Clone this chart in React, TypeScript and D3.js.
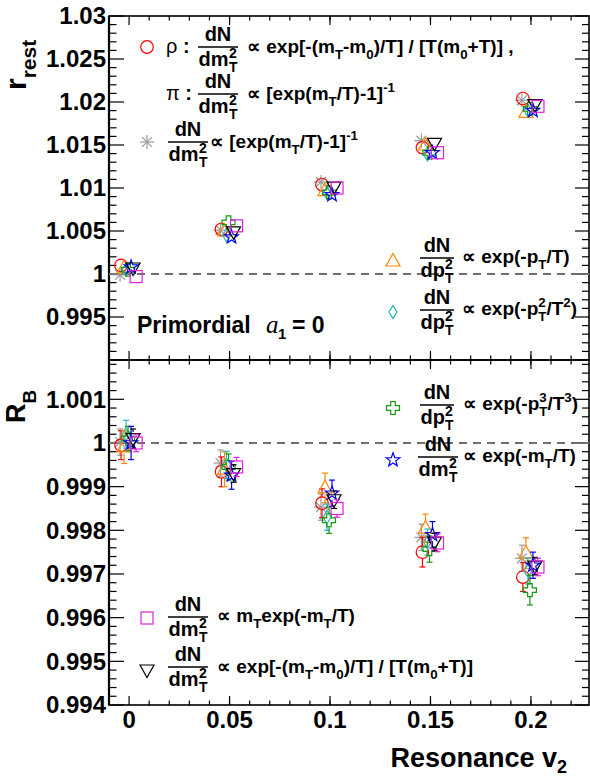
import React from 'react';
import * as d3 from 'd3';

// resonance v2 (x) values shared by all series
const v2 = [0, 0.05, 0.1, 0.15, 0.2];

// r_rest (top panel)
const rRestRho = [1.0010, 1.0052, 1.0104, 1.0147, 1.0204];
const rRestPtExp = [1.0007, 1.0050, 1.0097, 1.0150, 1.0188];
const rRestPt2 = [1.0005, 1.0045, 1.0094, 1.0139, 1.0190];
const rRestBose = [0.9999, 1.0051, 1.0107, 1.0155, 1.0202];
const rRestPt3 = [1.0005, 1.0060, 1.0095, 1.0141, 1.0192];
const rRestMtExp = [1.0008, 1.0043, 1.0092, 1.0141, 1.0190];
const rRestMtMt = [0.9997, 1.0056, 1.0100, 1.0141, 1.0195];
const rRestTsallis = [1.0007, 1.0049, 1.0101, 1.0152, 1.0197];

// R_B (bottom panel) and its errors
const rbRho = [0.99995, 0.99934, 0.99862, 0.99750, 0.99693];
const rbPtExp = [0.99991, 0.99940, 0.99897, 0.99805, 0.99748];
const rbPt2 = [1.00020, 0.99950, 0.99830, 0.99773, 0.99707];
const rbBose = [1.00002, 0.99954, 0.99853, 0.99784, 0.99736];
const rbPt3 = [1.00010, 0.99945, 0.99823, 0.99757, 0.99663];
const rbMtExp = [1.00000, 0.99926, 0.99885, 0.99790, 0.99720];
const rbMtMt = [1.00000, 0.99945, 0.99850, 0.99771, 0.99716];
const rbTsallis = [1.00010, 0.99930, 0.99870, 0.99773, 0.99718];

const errRho = [0.00033, 0.00034, 0.00033, 0.00034, 0.00033];
const errPtExp = [0.00038, 0.00040, 0.00034, 0.00032, 0.00035];
const errPt2 = [0.00032, 0.00031, 0.00030, 0.00030, 0.00030];
const errBose = [0.00030, 0.00030, 0.00030, 0.00030, 0.00030];
const errPt3 = [0.00028, 0.00030, 0.00030, 0.00030, 0.00034];
const errMtExp = [0.00038, 0.00032, 0.00030, 0.00030, 0.00030];
const errMtMt = [0.00020, 0.00022, 0.00020, 0.00020, 0.00020];
const errTsallis = [0.00022, 0.00020, 0.00020, 0.00020, 0.00020];

const xTickLabels = ['0', '0.05', '0.1', '0.15', '0.2'];

const series = [
  { shape: 'asterisk', color: '#999999', shift: -0.0045, top: rRestBose, bot: rbBose, err: errBose },
  { shape: 'circle', color: '#ff0000', shift: -0.004, top: rRestRho, bot: rbRho, err: errRho },
  { shape: 'triUp', color: '#ff8800', shift: -0.0025, top: rRestPtExp, bot: rbPtExp, err: errPtExp },
  { shape: 'diamond', color: '#22bbbb', shift: -0.0015, top: rRestPt2, bot: rbPt2, err: errPt2 },
  { shape: 'cross', color: '#119911', shift: -0.0005, top: rRestPt3, bot: rbPt3, err: errPt3 },
  { shape: 'star', color: '#0000ff', shift: 0.001, top: rRestMtExp, bot: rbMtExp, err: errMtExp },
  { shape: 'triDown', color: '#000000', shift: 0.002, top: rRestTsallis, bot: rbTsallis, err: errTsallis },
  { shape: 'square', color: '#e020e0', shift: 0.0035, top: rRestMtMt, bot: rbMtMt, err: errMtMt },
];

const L = 109, R = 589, T = 16, MID = 360, B = 705;
const FONT = "'Liberation Sans', Arial, Helvetica, sans-serif";

const x = d3.scaleLinear().domain([-0.01, 0.2289]).range([L, R]);
const yTop = d3.scaleLinear().domain([0.99, 1.03]).range([MID, T]);
const yBot = d3.scaleLinear().domain([0.994, 1.0019]).range([B, MID]);

const fmt = (v: number) => String(+v.toFixed(4));

function Marker({ shape, cx, cy, color }: any) {
  const p = { fill: 'none', stroke: color, strokeWidth: 1.2 };
  if (shape === 'circle') return <circle cx={cx} cy={cy} r={6.3} {...p} />;
  if (shape === 'square') return <rect x={cx - 6} y={cy - 6} width={12} height={12} {...p} />;
  if (shape === 'triUp')
    return <polygon points={`${cx},${cy - 7.5} ${cx + 7},${cy + 5} ${cx - 7},${cy + 5}`} {...p} />;
  if (shape === 'triDown')
    return <polygon points={`${cx},${cy + 7.5} ${cx + 7},${cy - 5} ${cx - 7},${cy - 5}`} {...p} />;
  if (shape === 'diamond')
    return <polygon points={`${cx},${cy - 6.5} ${cx + 4},${cy} ${cx},${cy + 6.5} ${cx - 4},${cy}`} {...p} />;
  if (shape === 'cross') {
    const a = 2.3, l = 6.5;
    const pts = [[-a, -l], [a, -l], [a, -a], [l, -a], [l, a], [a, a], [a, l], [-a, l], [-a, a], [-l, a], [-l, -a], [-a, -a]];
    return <polygon points={pts.map(d => `${cx + d[0]},${cy + d[1]}`).join(' ')} {...p} />;
  }
  if (shape === 'star') {
    const pts = d3.range(10).map(i => {
      const r = i % 2 === 0 ? 7.2 : 2.9;
      const ang = -Math.PI / 2 + (i * Math.PI) / 5;
      return `${cx + r * Math.cos(ang)},${cy + r * Math.sin(ang)}`;
    });
    return <polygon points={pts.join(' ')} {...p} />;
  }
  // asterisk
  return (
    <g stroke={color} strokeWidth={1.2}>
      {[0, 45, 90, 135].map(a => {
        const r = 7, t = (a * Math.PI) / 180;
        return <line key={a} x1={cx - r * Math.cos(t)} y1={cy - r * Math.sin(t)} x2={cx + r * Math.cos(t)} y2={cy + r * Math.sin(t)} />;
      })}
    </g>
  );
}

// text with sub/superscripts
function Rich({ x: tx, y: ty, segs, size = 19 }: any) {
  let cur = 0;
  return (
    <text x={tx} y={ty} fontFamily={FONT} fontWeight="bold" fontSize={size} style={{ whiteSpace: 'pre' }}>
      {segs.map((s: any, i: number) => {
        const target = s.k === 'sub' ? 6 : s.k === 'sup' ? -8 : 0;
        const dy = target - cur;
        cur = target;
        return (
          <tspan key={i} dy={dy} dx={s.dx || 0} fontSize={s.k ? size * 0.7 : size}>{s.t}</tspan>
        );
      })}
    </text>
  );
}

function Frac({ cx, ly, den }: any) {
  const dm = den === 'dm';
  const w = dm ? 20 : 17;
  const start = dm ? cx - 19.5 : cx - 16.5;
  const scriptX = dm ? cx + 11 : cx + 8;
  return (
    <g fontFamily={FONT} fontWeight="bold">
      <text x={cx} y={ly - 6} fontSize={20} textAnchor="middle">dN</text>
      <line x1={cx - w} x2={cx + w} y1={ly} y2={ly} stroke="#000" strokeWidth={1.5} />
      <text x={start} y={ly + 19} fontSize={20}>{den}</text>
      <text x={scriptX} y={ly + 11} fontSize={14}>2</text>
      <text x={scriptX} y={ly + 25} fontSize={14}>T</text>
    </g>
  );
}

const segTsallis = [
  { t: '∝ exp[-(m' }, { t: 'T', k: 'sub' }, { t: '-m' }, { t: '0', k: 'sub' },
  { t: ')/T] / [T(m' }, { t: '0', k: 'sub' }, { t: '+T)]' },
];
const segBose = [{ t: '∝ [exp(m' }, { t: 'T', k: 'sub' }, { t: '/T)-1]' }, { t: '-1', k: 'sup' }];

function Axes({ yS, majors, minors }: any) {
  const y0 = yS.range()[0], y1 = yS.range()[1];
  const xMin = d3.range(1, 23).map(i => i * 0.01);
  return (
    <g stroke="#000">
      <rect x={L} y={y1} width={R - L} height={y0 - y1} fill="none" strokeWidth={1.6} />
      <line x1={L} x2={L} y1={y1} y2={y0} strokeWidth={2.2} />
      {majors.map((v: number) => (
        <g key={'M' + v}>
          <line x1={L} x2={L + 15} y1={yS(v)} y2={yS(v)} strokeWidth={1.2} />
          <line x1={R} x2={R - 14} y1={yS(v)} y2={yS(v)} strokeWidth={1.2} />
        </g>
      ))}
      {minors.map((v: number) => (
        <g key={'m' + v}>
          <line x1={L} x2={L + 7.5} y1={yS(v)} y2={yS(v)} strokeWidth={1.2} />
          <line x1={R} x2={R - 7} y1={yS(v)} y2={yS(v)} strokeWidth={1.2} />
        </g>
      ))}
      {v2.map(v => (
        <g key={'X' + v}>
          <line x1={x(v)} x2={x(v)} y1={y1} y2={y1 + 9} strokeWidth={1.2} />
          <line x1={x(v)} x2={x(v)} y1={y0} y2={y0 - 9} strokeWidth={1.2} />
        </g>
      ))}
      {xMin.map(v => (
        <g key={'x' + v}>
          <line x1={x(v)} x2={x(v)} y1={y1} y2={y1 + 4.5} strokeWidth={1.2} />
          <line x1={x(v)} x2={x(v)} y1={y0} y2={y0 - 4.5} strokeWidth={1.2} />
        </g>
      ))}
      <line x1={L} x2={R} y1={yS(1)} y2={yS(1)} stroke="#707070" strokeWidth={2} strokeDasharray="8,6" />
      <g fontFamily={FONT} fontWeight="bold" fontSize={24} stroke="none" fill="#000" textAnchor="end">
        {majors.map((v: number) => (
          <text key={'l' + v} x={106} y={yS(v) + 8.3}>{fmt(v)}</text>
        ))}
      </g>
    </g>
  );
}

export default function App() {
  const topMajors = d3.range(1, 9).map(i => 0.99 + i * 0.005);
  const topMinors = d3.range(1, 40).map(i => 0.99 + i * 0.001).filter(v => Math.abs((v - 0.99) / 0.005 - Math.round((v - 0.99) / 0.005)) > 1e-6);
  const botMajors = d3.range(0, 8).map(i => 0.994 + i * 0.001);
  const botMinors = d3.range(1, 40).map(i => 0.994 + i * 0.0002).filter(v => v < 1.0019 && Math.abs((v - 0.994) / 0.001 - Math.round((v - 0.994) / 0.001)) > 1e-6);

  return (
    <svg width={590} height={780} style={{ position: 'absolute', left: 0, top: 0, background: '#fff' }}>
      <rect width={590} height={780} fill="#fff" />
      <Axes yS={yTop} majors={topMajors} minors={topMinors} />
      <Axes yS={yBot} majors={botMajors} minors={botMinors} />

      {/* top panel points */}
      {series.map((s, si) => (
        <g key={'t' + si}>
          {v2.map((v, i) => (
            <Marker key={i} shape={s.shape} color={s.color} cx={x(v + s.shift)} cy={yTop(s.top[i])} />
          ))}
        </g>
      ))}

      {/* bottom panel points with errors */}
      {series.map((s, si) => (
        <g key={'b' + si}>
          {v2.map((v, i) => {
            const cx = x(v + s.shift), cy = yBot(s.bot[i]);
            const hi = yBot(s.bot[i] + s.err[i]), lo = yBot(s.bot[i] - s.err[i]);
            return (
              <g key={i} stroke={s.color} strokeWidth={1.2}>
                {cy - hi > 6.5 && <line x1={cx} x2={cx} y1={cy - 6.5} y2={hi} />}
                {lo - cy > 6.5 && <line x1={cx} x2={cx} y1={cy + 6.5} y2={lo} />}
                <line x1={cx - 3} x2={cx + 3} y1={hi} y2={hi} />
                <line x1={cx - 3} x2={cx + 3} y1={lo} y2={lo} />
                <Marker shape={s.shape} color={s.color} cx={cx} cy={cy} />
              </g>
            );
          })}
        </g>
      ))}

      {/* axis titles */}
      <text transform="translate(26,90) rotate(-90)" fontFamily={FONT} fontWeight="bold">
        <tspan fontSize={30}>r</tspan>
        <tspan fontSize={21} dy={10}>rest</tspan>
      </text>
      <text transform="translate(25,423) rotate(-90)" fontFamily={FONT} fontWeight="bold">
        <tspan fontSize={27}>R</tspan>
        <tspan fontSize={19} dy={11}>B</tspan>
      </text>
      <g fontFamily={FONT} fontWeight="bold" fontSize={24} textAnchor="middle">
        {v2.map((v, i) => (
          <text key={v} x={x(v)} y={728}>{xTickLabels[i]}</text>
        ))}
      </g>
      <text x={567} y={767} textAnchor="end" fontFamily={FONT} fontWeight="bold" fontSize={27}>
        <tspan>Resonance v</tspan>
        <tspan fontSize={18} dy={6}>2</tspan>
      </text>

      {/* legend: top-left */}
      <Marker shape="circle" color="#ff0000" cx={147} cy={47} />
      <text x={166} y={53} fontFamily={FONT} fontSize={20}>ρ <tspan fontWeight="bold">:</tspan></text>
      <Frac cx={218} ly={47} den="dm" />
      <Rich x={247} y={53} segs={[...segTsallis, { t: ' ,' }]} />

      <text x={166} y={100} fontFamily={FONT} fontSize={20}>π <tspan fontWeight="bold">:</tspan></text>
      <Frac cx={218} ly={94} den="dm" />
      <Rich x={247} y={100} segs={segBose} />

      <Marker shape="asterisk" color="#999999" cx={147} cy={142} />
      <Frac cx={188} ly={142} den="dm" />
      <Rich x={210} y={148} segs={segBose} />

      {/* legend: top-right */}
      <Marker shape="triUp" color="#ff8800" cx={393} cy={261} />
      <Frac cx={437} ly={258} den="dp" />
      <Rich x={462} y={263} segs={[{ t: '∝ exp(-p' }, { t: 'T', k: 'sub' }, { t: '/T)' }]} />

      <Marker shape="diamond" color="#22bbbb" cx={393} cy={312} />
      <Frac cx={437} ly={310} den="dp" />
      <Rich x={462} y={315} segs={[{ t: '∝ exp(-p' }, { t: '2', k: 'sup' }, { t: 'T', k: 'sub', dx: -7.4 }, { t: '/T' }, { t: '2', k: 'sup' }, { t: ')' }]} />

      <text x={137} y={333} fontFamily={FONT} fontWeight="bold" fontSize={23}>Primordial</text>
      <text x={266} y={333} fontFamily="'Liberation Serif', 'Times New Roman', serif" fontStyle="italic" fontSize={25}>a</text>
      <text x={278} y={339} fontFamily={FONT} fontWeight="bold" fontSize={15}>1</text>
      <text x={292} y={333} fontFamily={FONT} fontWeight="bold" fontSize={23}>= 0</text>

      {/* legend: bottom-right */}
      <Marker shape="cross" color="#119911" cx={393} cy={408} />
      <Frac cx={437} ly={405} den="dp" />
      <Rich x={463} y={410} segs={[{ t: '∝ exp(-p' }, { t: '3', k: 'sup' }, { t: 'T', k: 'sub', dx: -7.4 }, { t: '/T' }, { t: '3', k: 'sup' }, { t: ')' }]} />

      <Marker shape="star" color="#0000ff" cx={393} cy={460} />
      <Frac cx={438} ly={457} den="dm" />
      <Rich x={463} y={462} segs={[{ t: '∝ exp(-m' }, { t: 'T', k: 'sub' }, { t: '/T)' }]} />

      {/* legend: bottom-left */}
      <Marker shape="square" color="#e020e0" cx={147} cy={618} />
      <Frac cx={188} ly={617} den="dm" />
      <Rich x={217} y={622} segs={[{ t: '∝ m' }, { t: 'T', k: 'sub' }, { t: 'exp(-m' }, { t: 'T', k: 'sub' }, { t: '/T)' }]} />

      <Marker shape="triDown" color="#000000" cx={147} cy={670} />
      <Frac cx={188} ly={667} den="dm" />
      <Rich x={217} y={673} segs={segTsallis} />
    </svg>
  );
}
